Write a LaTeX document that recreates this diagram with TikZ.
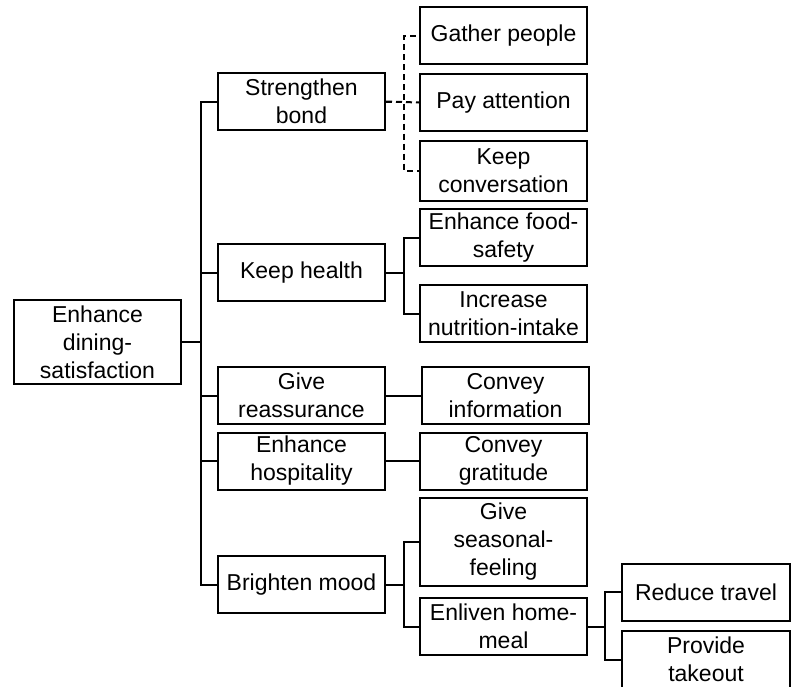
\documentclass[tikz,border=0pt]{standalone}
\usepackage{fontspec}
\setmainfont{Liberation Sans}
\usepackage{tikz}
\usetikzlibrary{shapes,arrows,positioning}

\begin{document}
\begin{tikzpicture}[x=1pt, y=-1pt, node distance=202pt]
    \tikzstyle{box} = [rectangle, draw, line width=2pt, fill=white, minimum width=167pt, minimum height=57pt, inner sep=0pt, align=center, font=\fontsize{23}{28}\selectfont]
    \tikzstyle{link} = [line width=2pt]
    \tikzstyle{dashlink} = [link, dash pattern=on 6pt off 4pt]

    \useasboundingbox (0,0) rectangle (797,686);

    % Goal
    \node [box, minimum height=84pt] (goal) at (97.5,342) {Enhance\\dining-\\satisfaction};

    % First level
    \node [box] (bond) at (301.5,101.5) {Strengthen\\bond};
    \node [box] (health) at (301.5,272.5) {Keep health};
    \node [box] (reassure) at (301.5,395.5) {Give\\reassurance};
    \node [box] (hospit) at (301.5,461) {Enhance\\hospitality};
    \node [box] (mood) at (301.5,584.5) {Brighten mood};

    % Second level
    \node [box] (gather) at (503.5,35.5) {Gather people};
    \node [box] (attention) at (503.5,102.5) {Pay attention};
    \node [box, minimum height=60pt] (talk) at (503.5,170.5) {Keep\\conversation};
    \node [box] (safety) at (503.5,237.5) {Enhance food-\\safety};
    \node [box] (nutrition) at (503.5,313.5) {Increase\\nutrition-intake};
    \node [box, right of=reassure, xshift=2pt] (info) {Convey\\information};
    \node [box, right of=hospit] (thanks) {Convey\\gratitude};
    \node [box, minimum height=88pt] (season) at (503.5,542) {Give\\seasonal-\\feeling};
    \node [box] (homemeal) at (503.5,626.5) {Enliven home-\\meal};

    % Third level
    \node [box, minimum width=168pt] (travel) at (706,592) {Reduce travel};
    \node [box, minimum width=168pt] (takeout) at (706,659.5) {Provide\\takeout};

    % Links from goal
    \draw [link] (goal.east) -- ++(19,0) |- (bond.west);
    \draw [link] (goal.east) -- ++(19,0) |- (health.west);
    \draw [link] (goal.east) -- ++(19,0) |- (reassure.west);
    \draw [link] (goal.east) -- ++(19,0) |- (hospit.west);
    \draw [link] (goal.east) -- ++(19,0) |- (mood.west);

    % Links from first level
    \draw [dashlink] (bond.east) -- ++(18,0) |- (gather.west);
    \draw [dashlink] (bond.east) -- (attention.west);
    \draw [dashlink] (bond.east) -- ++(18,0) |- (talk.west);
    \draw [link] (health.east) -- ++(18,0) |- (safety.west);
    \draw [link] (health.east) -- ++(18,0) |- (nutrition.west);
    \draw [link] (reassure.east) -- (info.west);
    \draw [link] (hospit.east) -- (thanks.west);
    \draw [link] (mood.east) -- ++(18,0) |- (season.west);
    \draw [link] (mood.east) -- ++(18,0) |- (homemeal.west);

    % Links from second level
    \draw [link] (homemeal.east) -- ++(17,0) |- (travel.west);
    \draw [link] (homemeal.east) -- ++(17,0) |- (takeout.west);
\end{tikzpicture}
\end{document}
